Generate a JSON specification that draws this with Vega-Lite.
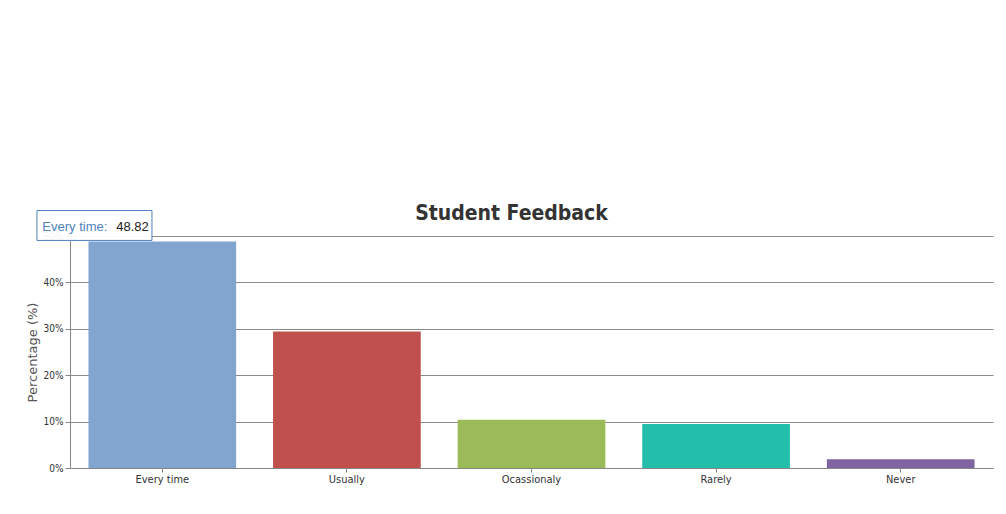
{
  "$schema": "https://vega.github.io/schema/vega-lite/v6.json",
  "autosize": "none",
  "width": 923,
  "height": 232,
  "padding": {"left": 70, "top": 236, "right": 13, "bottom": 46},
  "background": "white",
  "config": {"view": {"stroke": null}},
  "title": {
    "text": "Student Feedback",
    "font": "DejaVu Sans Condensed, sans-serif",
    "fontSize": 21,
    "fontWeight": "bold",
    "color": "#333333",
    "anchor": "middle",
    "dx": -20,
    "offset": -15
  },
  "data": {
    "values": [
      {"response": "Every time", "pct": 48.82, "color": "#82A5D0"},
      {"response": "Usually", "pct": 29.41, "color": "#C0504E"},
      {"response": "Ocassionaly", "pct": 10.4, "color": "#9BBB58"},
      {"response": "Rarely", "pct": 9.5, "color": "#23BFAA"},
      {"response": "Never", "pct": 1.9, "color": "#8064A1"}
    ]
  },
  "encoding": {
    "x": {
      "field": "response",
      "type": "nominal",
      "sort": null,
      "scale": {"paddingInner": 0.2, "paddingOuter": 0.1},
      "axis": {
        "title": null,
        "labelAngle": 0,
        "labelFont": "DejaVu Sans Condensed, sans-serif",
        "labelFontSize": 11,
        "labelColor": "#333333",
        "labelPadding": 1,
        "domainColor": "#888888",
        "tickColor": "#888888",
        "tickSize": 4,
        "grid": false
      }
    },
    "y": {
      "field": "pct",
      "type": "quantitative",
      "scale": {"domain": [0, 50], "nice": false},
      "axis": {
        "title": "Percentage (%)",
        "titleFont": "DejaVu Sans, sans-serif",
        "titleFontSize": 13,
        "titleFontWeight": "normal",
        "titleColor": "#555555",
        "titlePadding": 4,
        "values": [0, 10, 20, 30, 40, 50],
        "labelExpr": "datum.value + '%'",
        "labelFont": "DejaVu Sans Condensed, sans-serif",
        "labelFontSize": 10,
        "labelColor": "#333333",
        "tickSize": 5,
        "tickColor": "#888888",
        "domainColor": "#888888",
        "grid": true,
        "gridColor": "#8a8a8a",
        "gridWidth": 1
      }
    }
  },
  "layer": [
    {
      "mark": {"type": "bar"},
      "encoding": {
        "color": {"field": "color", "type": "nominal", "scale": null, "legend": null}
      }
    },
    {
      "transform": [{"filter": "datum.response === 'Every time'"}],
      "mark": {
        "type": "point",
        "shape": "M-1,-0.26L1,-0.26L1,0.26L-1,0.26Z",
        "size": 13225,
        "filled": true,
        "fill": "white",
        "fillOpacity": 0.95,
        "stroke": "#4F81BC",
        "strokeWidth": 1,
        "opacity": 1
      },
      "encoding": {
        "xOffset": {"value": 6},
        "yOffset": {"value": -16}
      }
    },
    {
      "transform": [{"filter": "datum.response === 'Every time'"}],
      "mark": {
        "type": "text",
        "text": "Every time:",
        "font": "Liberation Sans, sans-serif",
        "fontSize": 13,
        "color": "#4F81BC",
        "align": "left",
        "baseline": "middle",
        "dx": -120,
        "dy": -14
      }
    },
    {
      "transform": [{"filter": "datum.response === 'Every time'"}],
      "mark": {
        "type": "text",
        "font": "Liberation Sans, sans-serif",
        "fontSize": 13,
        "color": "#222222",
        "align": "left",
        "baseline": "middle",
        "dx": -46,
        "dy": -14
      },
      "encoding": {
        "text": {"field": "pct", "type": "quantitative", "format": ".2f"}
      }
    }
  ]
}
